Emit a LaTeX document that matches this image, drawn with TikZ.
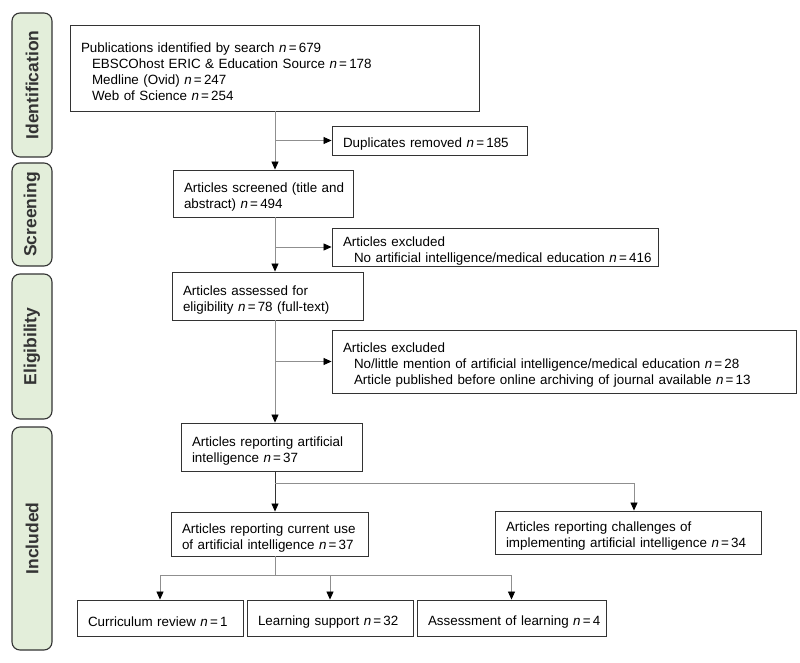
\documentclass[tikz,border=0pt]{standalone}
\usepackage{fontspec}
\setmainfont{Liberation Sans}
\usetikzlibrary{arrows.meta}
\definecolor{boxc}{HTML}{333333}
\definecolor{linec}{HTML}{8F8F8F}
\definecolor{phasefill}{HTML}{E3EEDA}
\newcommand{\nn}{\textit{n}\kern2.2pt=\kern2.2pt}
\newcommand{\li}[1]{\mbox{#1}}
\newcommand{\ind}[1]{\mbox{\hspace*{11pt}#1}}
\begin{document}
\begin{tikzpicture}[x=1pt,y=-1pt,
  box/.style={draw=boxc, line width=0.9pt, align=left, inner xsep=11pt, inner ysep=0pt,
    font=\fontsize{13.4}{16}\selectfont, execute at begin node={\rule{0pt}{17.5pt}}},
  phase/.style={draw=boxc, fill=phasefill, line width=1.1pt, rounded corners=8pt,
    minimum width=40pt, font=\fontsize{17.5}{20}\selectfont\bfseries, text=boxc},
  conn/.style={draw=linec, line width=0.8pt, -{Triangle[length=8pt,width=7pt,color=black]}},
  plain/.style={draw=linec, line width=0.8pt}]
\useasboundingbox (0,0) rectangle (800,663);
% phase labels
\node[phase, minimum height=144pt] (ph1) at (32,85) {\rotatebox{90}{Identification}};
\node[phase, minimum height=103pt] (ph2) at (32,214.5) {\rotatebox{90}{Screening}};
\node[phase, minimum height=145pt] (ph3) at (32,346.5) {\rotatebox{90}{Eligibility}};
\node[phase, minimum height=223pt] (ph4) at (32,538.5) {\rotatebox{90}{Included}};
% boxes
\node[box, text width=387pt, minimum height=86pt] (pub) at (274.5,68)
 {\li{Publications identified by search \nn679}\\
  \ind{EBSCOhost ERIC \& Education Source \nn178}\\
  \ind{Medline (Ovid) \nn247}\\
  \ind{Web of Science \nn254}};
\node[box, text width=173pt, minimum height=29pt] (dup) at (429.5,140.5)
 {\li{Duplicates removed \nn185}};
\node[box, text width=158pt, minimum height=47pt] (scr) at (263,193.5)
 {\li{Articles screened (title and}\\ \li{abstract) \nn494}};
\node[box, text width=304pt, minimum height=38pt] (exc1) at (495,247)
 {\li{Articles excluded}\\ \ind{No artificial intelligence/medical education \nn416}};
\node[box, text width=169pt, minimum height=48pt] (elig) at (267.5,296)
 {\li{Articles assessed for}\\ \li{eligibility \nn78 (full-text)}};
\node[box, text width=442pt, minimum height=63pt] (exc2) at (564,361.5)
 {\li{Articles excluded}\\
  \ind{No/little mention of artificial intelligence/medical education \nn28}\\
  \ind{Article published before online archiving of journal available \nn13}};
\node[box, text width=159pt, minimum height=48pt] (ai) at (271.5,447)
 {\li{Articles reporting artificial}\\ \li{intelligence \nn37}};
\node[box, text width=175pt, minimum height=44pt] (cur) at (269.5,534)
 {\li{Articles reporting current use}\\ \li{of artificial intelligence \nn37}};
\node[box, text width=244pt, minimum height=43pt] (chal) at (628,532.5)
 {\li{Articles reporting challenges of}\\ \li{implementing artificial intelligence \nn34}};
\node[box, text width=144pt, minimum height=36pt] (cr) at (160,618)
 {\li{Curriculum review \nn1}};
\node[box, text width=144pt, minimum height=36pt] (ls) at (330,618)
 {\li{Learning support \nn32}};
\node[box, text width=167pt, minimum height=36pt] (as) at (511.5,618)
 {\li{Assessment of learning \nn4}};
% connectors
\coordinate (tr) at (275,0);
\coordinate (ch) at (634,0);
\coordinate (b1) at (275,483);
\coordinate (b2) at (275,575);
\draw[conn] (pub.south -| tr) -- (scr.north -| tr);
\draw[conn] (dup.west -| tr) -- (dup.west);
\draw[conn] (scr.south -| tr) -- (elig.north -| tr);
\draw[conn] (exc1.west -| tr) -- (exc1.west);
\draw[conn] (elig.south -| tr) -- (ai.north -| tr);
\draw[conn] (exc2.west -| tr) -- (exc2.west);
\draw[conn, draw=boxc] (ai.south -| tr) -- (cur.north -| tr);
\draw[conn] (b1) -| (chal.north -| ch);
\draw[plain] (cur.south -| tr) -- (b2);
\draw[conn] (b2) -| (cr.north);
\draw[conn] (b2) -| (ls.north);
\draw[conn] (b2) -| (as.north);
\end{tikzpicture}
\end{document}
